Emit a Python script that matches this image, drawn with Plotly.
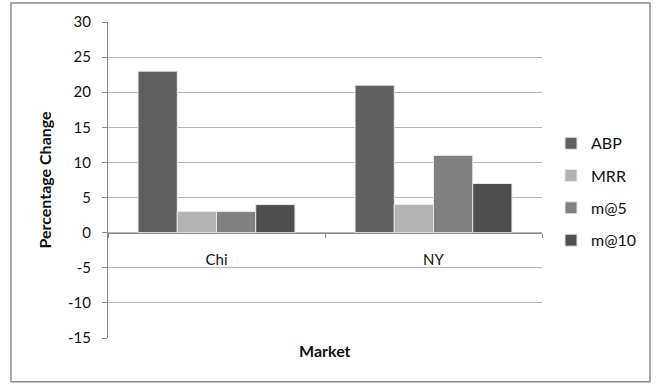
import plotly.graph_objects as go

markets = ["Chi", "NY"]
series_names = ["ABP", "MRR", "m@5", "m@10"]
abp = [23, 21]
mrr = [3, 4]
m5 = [3, 11]
m10 = [4, 7]
y_ticks = [-15, -10, -5, 0, 5, 10, 15, 20, 25, 30]
y_tick_text = ["-15", "-10", "-5", "0", "5", "10", "15", "20", "25", "30"]

colors = ["#606060", "#b3b3b3", "#808080", "#4f4f4f"]
FONT = "Lato"

fig = go.Figure()
for name, vals, col in zip(series_names, [abp, mrr, m5, m10], colors):
    fig.add_trace(go.Bar(
        x=markets, y=vals, name=name, legendgroup=name,
        marker=dict(color=col, line=dict(color="#e8e8e8", width=1)),
    ))

W, H = 656, 385
L, R, T, B = 108, 114, 20, 47
pw, ph = W - L - R, H - T - B

def px_x(p):
    return (p - L) / pw

def px_y(p):
    return (H - B - p) / ph

fig.update_layout(
    width=W, height=H,
    margin=dict(l=L, r=R, t=T, b=B, pad=0),
    paper_bgcolor="white", plot_bgcolor="white",
    barmode="group", bargap=0.277, bargroupgap=0,
    font=dict(family=FONT, size=15, color="#111111"),
    showlegend=True,
    legend=dict(x=px_x(551), y=px_y(125), xanchor="left", yanchor="top",
                tracegroupgap=8.5, font=dict(size=16, family=FONT),
                itemwidth=30, bgcolor="rgba(0,0,0,0)"),
    xaxis=dict(
        type="category", anchor="free", position=15 / 45,
        showline=True, linecolor="#8c8c8c", linewidth=1,
        ticks="outside", tickson="boundaries", ticklen=4, tickcolor="#8c8c8c",
        showgrid=False, zeroline=False,
        ticklabelstandoff=13,
        tickfont=dict(size=15, family=FONT),
    ),
    yaxis=dict(
        range=[-15, 30], tickmode="array", tickvals=y_ticks, ticktext=y_tick_text,
        showline=True, linecolor="#8c8c8c", linewidth=1,
        ticks="outside", ticklen=5, tickcolor="#8c8c8c",
        showgrid=True, gridcolor="#b5b5b5", gridwidth=1,
        zeroline=False, ticklabelstandoff=8,
        tickfont=dict(size=15, family=FONT),
        title=dict(text="<b>Percentage Change</b>", standoff=12,
                   font=dict(size=16, family=FONT)),
    ),
    shapes=[dict(type="rect", xref="paper", yref="paper",
                 x0=px_x(11), x1=px_x(650), y0=px_y(382), y1=px_y(1),
                 line=dict(color="#8a8a8a", width=1.5), fillcolor="rgba(0,0,0,0)",
                 layer="below")],
    annotations=[dict(text="<b>Market</b>", xref="paper", yref="paper",
                      x=0.5, y=px_y(351), xanchor="center", yanchor="middle",
                      showarrow=False, font=dict(size=16, family=FONT))],
)

fig.write_html("out.html")
